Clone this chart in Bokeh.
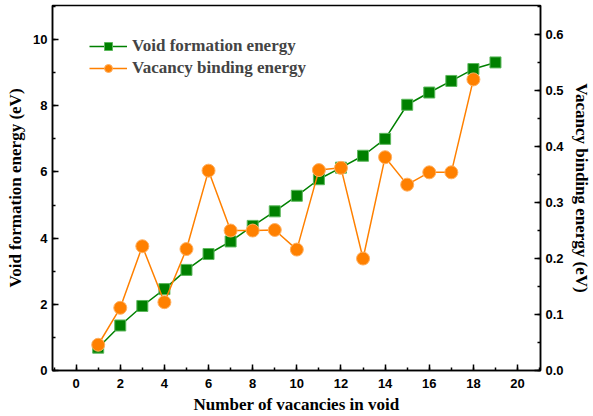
from bokeh.plotting import figure
from bokeh.models import Range1d, LinearAxis, Legend, LegendItem, FixedTicker, PrintfTickFormatter
from bokeh.embed import file_html
from bokeh.resources import INLINE

n_vac = list(range(1, 20))
void_formation = [0.69, 1.36, 1.95, 2.46, 3.04, 3.52, 3.90, 4.37, 4.81, 5.28,
                  5.78, 6.13, 6.49, 7.00, 8.03, 8.40, 8.75, 9.11, 9.31]
n_vac_b = list(range(1, 19))
binding = [0.046, 0.112, 0.222, 0.122, 0.217, 0.357, 0.250, 0.250, 0.251, 0.216,
           0.358, 0.362, 0.200, 0.381, 0.332, 0.354, 0.354, 0.520]

x_ticks = list(range(0, 21, 2))
yl_ticks = list(range(0, 11, 2))
yr_ticks = [0.0, 0.1, 0.2, 0.3, 0.4, 0.5, 0.6]

GREEN = "#008000"
ORANGE = "#FF8000"
SERIF = "Liberation Serif"
SANS = "Liberation Sans"

p = figure(width=593, height=416, output_backend="svg", toolbar_location=None,
           x_range=Range1d(-1.07, 21.04), y_range=Range1d(0, 11.03),
           min_border_left=52, min_border_right=50, min_border_top=5, min_border_bottom=46)
p.extra_y_ranges = {"r": Range1d(0, 0.652)}
p.grid.visible = False
p.outline_line_color = "black"
p.outline_line_width = 1.5

l1 = p.line(n_vac, void_formation, color=GREEN, line_width=1.5)
s1 = p.scatter(n_vac, void_formation, marker="square", size=11, fill_color=GREEN,
               line_color="#5cb85c", line_width=1)
l2 = p.line(n_vac_b, binding, color=ORANGE, line_width=1.5, y_range_name="r")
s2 = p.scatter(n_vac_b, binding, marker="circle", size=13, fill_color=ORANGE,
               line_color="#ffb060", line_width=1, y_range_name="r")

raxis = LinearAxis(y_range_name="r")
p.add_layout(raxis, "right")

def style(ax):
    ax.axis_line_width = 1.5
    ax.axis_line_color = "black"
    ax.major_tick_in = 6
    ax.major_tick_out = 0
    ax.minor_tick_in = 3
    ax.minor_tick_out = 0
    ax.major_tick_line_width = 1.5
    ax.minor_tick_line_width = 1.5
    ax.major_label_text_font = SANS
    ax.major_label_text_font_style = "bold"
    ax.major_label_text_font_size = "13px"
    ax.major_label_text_color = "black"
    ax.axis_label_text_font = SERIF
    ax.axis_label_text_font_style = "bold"
    ax.axis_label_text_font_size = "17px"
    ax.axis_label_text_color = "black"

p.xaxis.ticker = FixedTicker(ticks=x_ticks, minor_ticks=list(range(-1, 22)))
p.xaxis.axis_label = "Number of vacancies in void"
p.yaxis[0].ticker = FixedTicker(ticks=yl_ticks, minor_ticks=list(range(0, 12)))
p.yaxis[0].axis_label = "Void formation energy (eV)"
raxis.ticker = FixedTicker(ticks=yr_ticks, minor_ticks=[i * 0.05 for i in range(14)])
raxis.formatter = PrintfTickFormatter(format="%.1f")
raxis.axis_label = "Vacancy binding energy (eV)"
for ax in [p.xaxis[0], p.yaxis[0], raxis]:
    style(ax)
p.xaxis.major_label_standoff = 8
p.xaxis.axis_label_standoff = 4

legend = Legend(items=[
    LegendItem(label="Void formation energy", renderers=[l1, s1]),
    LegendItem(label="Vacancy binding energy", renderers=[l2, s2]),
], location=(32, 287))
legend.background_fill_alpha = 0
legend.border_line_alpha = 0
legend.label_text_font = SERIF
legend.label_text_font_style = "bold"
legend.label_text_font_size = "17px"
legend.glyph_width = 38
legend.glyph_height = 20
legend.label_height = 20
legend.spacing = 2
legend.padding = 5
legend.margin = 0
legend.label_standoff = 5
p.add_layout(legend, "center")

open("out.html", "w").write(file_html(p, INLINE))
